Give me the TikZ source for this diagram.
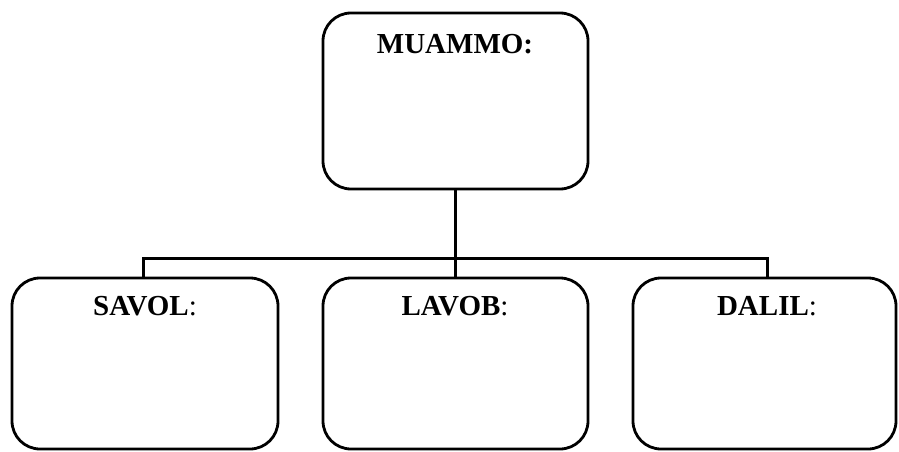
\documentclass[tikz,border=0pt]{standalone}
\usepackage{fontspec}
\setmainfont{Liberation Serif}
\begin{document}
\begin{tikzpicture}[x=1pt,y=-1pt,
  box/.style={draw,line width=2.8pt,rounded corners=28pt},
  lbl/.style={font=\fontsize{29}{32}\selectfont\bfseries,inner sep=0pt},
  conn/.style={line width=3pt}]
\useasboundingbox (0,0) rectangle (899,452);
\draw[box] (323,13) rectangle (588,189);
\draw[box] (12,278) rectangle (278,449);
\draw[box] (323,278) rectangle (588,449);
\draw[box] (633,278) rectangle (896,449);
\node[lbl] (m) at (455,44) {MUAMMO:};
\node[lbl] (s) at (145,306) {SAVOL{\mdseries:}};
\node[lbl] (l) at (455,306) {LAVOB{\mdseries:}};
\node[lbl] (d) at (767,306) {DALIL{\mdseries:}};
\coordinate (top) at (455,189);
\coordinate (bar) at (455,258);
\coordinate (lt) at (143,278);
\coordinate (mt) at (455,278);
\coordinate (rt) at (767,278);
\draw[conn] (top) -- (mt);
\draw[conn] (lt) -- (143,258) -- (767,258) -- (rt);
\end{tikzpicture}
\end{document}
